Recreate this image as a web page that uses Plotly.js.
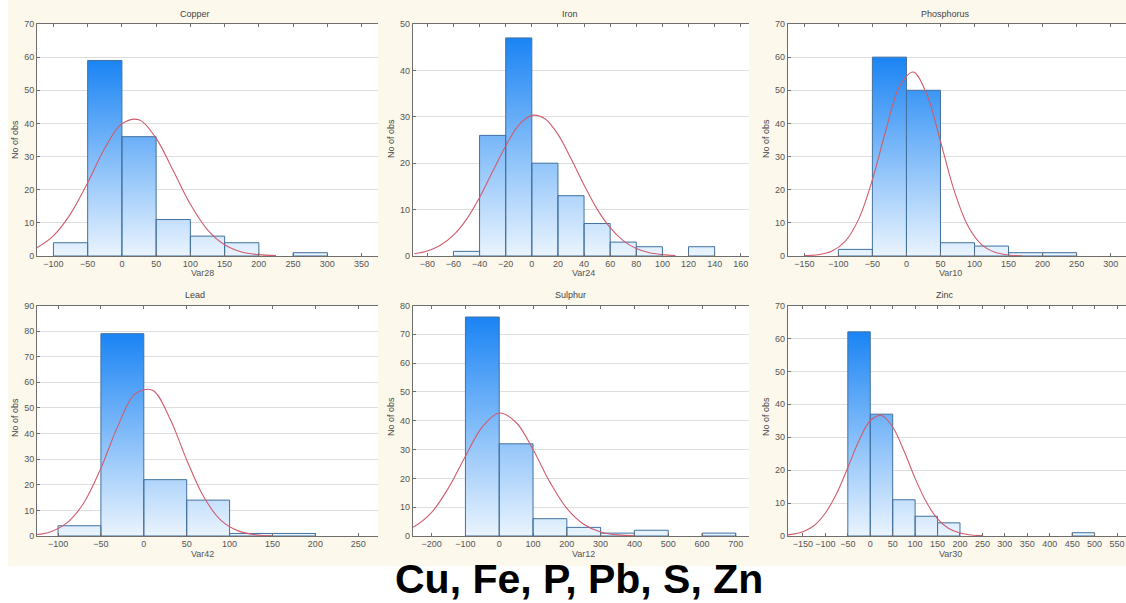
<!DOCTYPE html>
<html><head><meta charset="utf-8">
<script src="https://cdn.plot.ly/plotly-3.0.1.min.js"></script>
<style>html,body{margin:0;padding:0;background:#fff;}#chart{width:1126px;height:603px;}</style>
</head><body><div id="chart"></div>
<script>
// ---------------- DATA ----------------
const panelTitles = ['Copper', 'Iron', 'Phosphorus', 'Lead', 'Sulphur', 'Zinc'];
const varNames = ['Var28', 'Var24', 'Var10', 'Var42', 'Var12', 'Var30'];
const yAxisLabel = 'No of obs';
const bottomCaption = 'Cu, Fe, P, Pb, S, Zn';

const copperEdges = [-100, -50, 0, 50, 100, 150, 200, 250, 300];
const copperCounts = [4, 59, 36, 11, 6, 4, 0, 1];
const copperCurveX = [-125, -100, -75, -50, -25, 0, 25, 50, 75, 100, 125, 150, 175, 200, 225];
const copperCurveY = [2.4, 6.1, 12.7, 22.1, 32.5, 39.9, 41.1, 35.5, 25.7, 15.6, 7.9, 3.4, 1.2, 0.4, 0.1];

const ironEdges = [-60, -40, -20, 0, 20, 40, 60, 80, 100, 120, 140];
const ironCounts = [1, 26, 47, 20, 13, 7, 3, 2, 0, 2];
const ironCurveX = [-90, -80, -70, -60, -50, -40, -30, -20, -10, 0, 10, 20, 30, 40, 50, 60, 70, 80, 90, 100, 110];
const ironCurveY = [0.5, 1.1, 2.3, 4.5, 7.9, 12.6, 18.2, 23.7, 28.2, 30.3, 29.6, 26.2, 21.0, 15.3, 10.1, 6.1, 3.3, 1.6, 0.7, 0.3, 0.1];

const phosphorusEdges = [-100, -50, 0, 50, 100, 150, 200, 250];
const phosphorusCounts = [2, 60, 50, 4, 3, 1, 1];
const phosphorusCurveX = [-150, -130, -110, -90, -70, -50, -30, -10, 10, 30, 50, 70, 90, 110, 130, 150, 170];
const phosphorusCurveY = [0.1, 0.4, 1.4, 4.4, 11.2, 23.0, 38.1, 51.2, 55.5, 48.7, 34.6, 19.8, 9.2, 3.5, 1.1, 0.3, 0.05];

const leadEdges = [-100, -50, 0, 50, 100, 150, 200];
const leadCounts = [4, 79, 22, 14, 1, 1];
const leadCurveX = [-130, -110, -90, -70, -50, -30, -10, 10, 30, 50, 70, 90, 110, 130, 150];
const leadCurveY = [0.4, 1.5, 5.0, 12.9, 26.5, 43.1, 55.6, 56.9, 46.2, 29.7, 15.2, 6.1, 2.0, 0.5, 0.1];

const sulphurEdges = [-100, 0, 100, 200, 300, 400, 500, 600, 700];
const sulphurCounts = [76, 32, 6, 3, 1, 2, 0, 1];
const sulphurCurveX = [-300, -250, -200, -150, -100, -50, 0, 50, 100, 150, 200, 250, 300, 350, 400];
const sulphurCurveY = [1.1, 3.4, 8.2, 16.7, 27.7, 37.9, 42.7, 39.4, 30.0, 18.7, 9.6, 4.1, 1.4, 0.4, 0.1];

const zincEdges = [-50, 0, 50, 100, 150, 200, 250, 300, 350, 400, 450, 500];
const zincCounts = [62, 37, 11, 6, 4, 0, 0, 0, 0, 0, 1];
const zincCurveX = [-200, -175, -150, -125, -100, -75, -50, -25, 0, 25, 50, 75, 100, 125, 150, 175, 200, 225, 250];
const zincCurveY = [0.1, 0.5, 1.3, 3.2, 7.0, 12.9, 20.8, 29.0, 35.0, 36.6, 33.1, 25.9, 17.5, 10.3, 5.2, 2.3, 0.9, 0.3, 0.1];

// axis settings (ranges / tick steps)
const xRanges = [[-124, 374], [-91.2, 166.3], [-174.4, 322.5], [-124.5, 273], [-256, 739], [-184, 570]];
const yRanges = [[0, 70], [0, 50], [0, 70], [0, 90], [0, 80], [0, 70]];
const xSteps = [50, 20, 50, 50, 100, 50];

// ---------------- LAYOUT GEOMETRY (px) ----------------
const W = 1126, H = 603;
const colPx = [[37, 378], [412.7, 749], [787.7, 1126]];
const rowPx = [[24, 256], [305.5, 536]];
const titleX = [195, 570, 945];
const titleY = [14, 295];
const xTitleX = [202, 583, 950];
const xTitleY = [273, 554];
const yTitleX = [15, 391, 766];
const yTitleY = [139, 417];

const panels = [
  [copperEdges, copperCounts, copperCurveX, copperCurveY],
  [ironEdges, ironCounts, ironCurveX, ironCurveY],
  [phosphorusEdges, phosphorusCounts, phosphorusCurveX, phosphorusCurveY],
  [leadEdges, leadCounts, leadCurveX, leadCurveY],
  [sulphurEdges, sulphurCounts, sulphurCurveX, sulphurCurveY],
  [zincEdges, zincCounts, zincCurveX, zincCurveY]
];

const FONT = 'Liberation Sans, Arial, sans-serif';
const tickFont = {family: FONT, size: 9, color: '#555'};
const traces = [];
const layout = {
  width: W, height: H,
  margin: {l: 0, r: 0, t: 0, b: 0},
  paper_bgcolor: '#fcf8ec',
  plot_bgcolor: '#ffffff',
  showlegend: false,
  hovermode: false,
  annotations: [],
  shapes: [
    {type: 'rect', xref: 'paper', yref: 'paper', x0: 0, x1: 1, y0: 0, y1: 1 - 566 / H,
     fillcolor: '#ffffff', line: {width: 0}, layer: 'below'},
    {type: 'rect', xref: 'paper', yref: 'paper', x0: 0, x1: 8 / W, y0: 0, y1: 1,
     fillcolor: '#ffffff', line: {width: 0}, layer: 'below'}
  ]
};

panels.forEach((p, i) => {
  const [edges, counts, cx, cy] = p;
  const n = i + 1;
  const xa = 'x' + (n === 1 ? '' : n), ya = 'y' + (n === 1 ? '' : n);
  const col = i % 3, row = Math.floor(i / 3);
  // bars as closed polygons (one per bin) with an absolute-y gradient fill
  const bx = [], by = [];
  counts.forEach((c, k) => {
    if (c <= 0) return;
    const x0 = edges[k], x1 = edges[k + 1];
    bx.push(x0, x0, x1, x1, x0, null);
    by.push(0, c, c, 0, 0, null);
  });
  const maxC = Math.max(...counts);
  traces.push({
    type: 'scatter', mode: 'lines', x: bx, y: by, xaxis: xa, yaxis: ya,
    fill: 'toself',
    fillgradient: {type: 'vertical', start: 0, stop: maxC,
      colorscale: [[0, '#eaf4fe'], [1, '#1a84f4']]},
    line: {color: '#41719f', width: 1},
    connectgaps: false, hoverinfo: 'skip'
  });
  traces.push({
    type: 'scatter', mode: 'lines', x: cx, y: cy, xaxis: xa, yaxis: ya,
    line: {color: '#d05c6c', width: 1.1, shape: 'spline', smoothing: 1},
    hoverinfo: 'skip'
  });
  const xk = 'xaxis' + (n === 1 ? '' : n), yk = 'yaxis' + (n === 1 ? '' : n);
  layout[xk] = {
    domain: [colPx[col][0] / W, colPx[col][1] / W], anchor: ya,
    range: xRanges[i], dtick: xSteps[i], tick0: 0,
    showgrid: false, zeroline: false, showline: true, linecolor: '#6e6e6e', linewidth: 1,
    mirror: 'ticks', ticks: 'inside', ticklen: 3, tickcolor: '#6e6e6e',
    ticklabelstandoff: -1, ticklabeloverflow: 'allow',
    tickfont: tickFont, fixedrange: true
  };
  layout[yk] = {
    domain: [1 - rowPx[row][1] / H, 1 - rowPx[row][0] / H], anchor: xa,
    range: yRanges[i], dtick: 10,
    showgrid: true, gridcolor: '#dedede', gridwidth: 1, zeroline: false,
    showline: true, linecolor: '#6e6e6e', linewidth: 1,
    ticks: 'inside', ticklen: 3, tickcolor: '#6e6e6e',
    tickfont: tickFont, fixedrange: true
  };
  layout.annotations.push(
    {text: panelTitles[i], xref: 'paper', yref: 'paper', x: titleX[col] / W, y: 1 - titleY[row] / H,
     xanchor: 'center', yanchor: 'middle', showarrow: false, font: {family: FONT, size: 9, color: '#444'}},
    {text: varNames[i], xref: 'paper', yref: 'paper', x: xTitleX[col] / W, y: 1 - xTitleY[row] / H,
     xanchor: 'center', yanchor: 'middle', showarrow: false, font: {family: FONT, size: 9, color: '#555'}},
    {text: yAxisLabel, xref: 'paper', yref: 'paper', x: yTitleX[col] / W, y: 1 - yTitleY[row] / H,
     xanchor: 'center', yanchor: 'middle', textangle: -90, showarrow: false, font: {family: FONT, size: 9, color: '#444'}}
  );
});

layout.annotations.push({
  text: '<b>' + bottomCaption + '</b>', xref: 'paper', yref: 'paper', x: 579 / W, y: 1 - 579 / H,
  xanchor: 'center', yanchor: 'middle', showarrow: false,
  font: {family: FONT, size: 41, color: '#000'}
});

Plotly.newPlot('chart', traces, layout, {displayModeBar: false, staticPlot: true});
</script></body></html>
